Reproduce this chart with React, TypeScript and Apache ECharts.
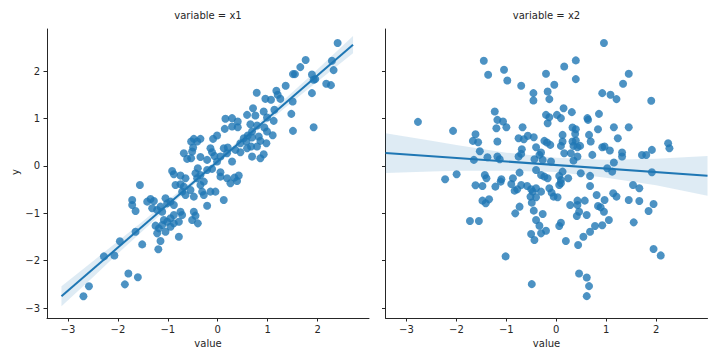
import React, { useEffect, useRef } from "react";
import * as echarts from "echarts";

const xTicks = [-3, -2, -1, 0, 1, 2];
const yTicks = [-3, -2, -1, 0, 1, 2];
const panelTitles = ["variable = x1", "variable = x2"];

const x1Points: [number, number][] = [
  [0.954,1.416],[0.707,1.219],[0.921,1.149],[0.587,1.078],[0.754,1.064],[0.987,1.022],[0.154,0.994],[0.287,1.008],[0.401,0.937],[0.287,0.832],[0.401,0.817],[0.141,0.782],[0.654,0.881],[0.787,0.853],[0.934,0.810],[0.687,0.726],[0.601,0.641],[0.521,0.585],[0.574,0.514],[0.454,0.479],[0.687,0.599],[0.821,0.620],[0.854,0.528],[0.987,0.726],[0.974,0.479],[0.787,0.409],[0.667,0.409],[0.587,0.373],[0.687,0.197],[0.854,0.162],[0.921,0.247],[0.454,0.289],[0.354,0.338],[0.201,0.388],[0.121,0.373],[0.187,0.268],[0.054,0.197],[0.287,0.092],[-0.013,0.092],[-0.213,0.127],[-0.013,0.641],[-0.093,0.571],[-0.146,0.373],[-0.113,0.289],[-0.066,0.211],[-0.346,0.571],[-0.413,0.514],[-0.479,0.571],[-0.533,0.514],[-0.493,0.388],[-0.513,0.303],[-0.679,0.268],[-0.533,0.162],[-0.613,0.148],[-0.346,0.190],[-0.913,-0.106],[-0.879,-0.176],[-0.746,-0.204],[-0.646,-0.261],[-0.399,-0.049],[-0.446,-0.155],[-0.346,-0.190],[-0.413,-0.261],[-0.279,-0.331],[-0.346,-0.402],[-0.213,-0.085],[-0.113,-0.063],[0.054,-0.134],[0.054,-0.226],[0.187,-0.261],[0.254,-0.367],[0.387,-0.317],[0.421,-0.204],[0.334,-0.247],[-1.559,-0.402],[-0.846,-0.402],[-0.746,-0.388],[-0.679,-0.437],[-0.713,-0.543],[-0.646,-0.613],[-0.546,-0.507],[-0.479,-0.648],[-0.313,-0.543],[-0.279,-0.613],[-0.146,-0.543],[-0.046,-0.543],[0.121,-0.719],[-0.213,-0.839],[-1.713,-0.719],[-1.713,-0.825],[-1.646,-0.951],[-1.413,-0.754],[-1.346,-0.698],[-1.279,-0.740],[-1.313,-0.895],[-1.213,-0.930],[-1.146,-0.860],[-1.046,-0.684],[-1.013,-0.790],[-0.946,-0.754],[-0.879,-0.825],[-1.113,-0.966],[-0.746,-0.966],[-0.713,-1.036],[-0.879,-1.036],[-0.946,-1.106],[-1.079,-1.141],[-1.013,-1.177],[-1.113,-1.247],[-1.246,-1.261],[-1.179,-1.318],[-1.213,-1.423],[-1.046,-1.388],[-0.946,-1.283],[-0.879,-1.212],[-0.779,-1.177],[-0.479,-0.966],[-0.446,-1.050],[-0.513,-1.141],[-0.399,-1.212],[-0.779,-1.494],[-1.513,-1.656],[-1.646,-1.388],[-1.146,-1.586],
  [-1.96,-1.59],[-2.07,-1.89],[-2.28,-1.91],[-1.79,-2.27],[-1.60,-2.35],[-1.86,-2.50],[-2.58,-2.54],[-2.69,-2.75],[-1.19,-1.76],
  [2.401,2.593],[2.287,2.220],[2.321,2.022],[1.761,2.234],[1.654,2.086],[1.507,1.938],[1.547,1.938],[1.887,1.931],[1.954,1.832],[1.921,1.818],[2.174,1.733],[2.267,1.705],[1.887,1.536],[1.361,1.691],[1.174,1.585],[1.201,1.501],[1.254,1.416],[1.067,1.395],[0.781,1.543],[1.501,1.360],[1.474,1.099],[1.507,0.740],[1.921,0.817],[1.134,1.184],[1.121,0.951],[1.101,0.648]
];

const x2Points: [number, number][] = [
  [-1.451,2.220],[-2.770,0.930],[-2.067,0.740],[-1.617,0.669],[-1.670,0.528],[-1.564,0.500],[-1.531,0.310],[-1.650,0.127],[-2.226,-0.282],[-1.995,-0.176],[-1.617,-0.409],[-1.478,-0.423],[-1.478,-0.733],[-1.412,-0.789],[-1.345,-0.705],[-1.729,-1.163],[-1.550,-1.163],[-1.014,-1.910],[-0.490,-2.495],
  [-1.364,1.924],[-1.046,2.030],[-0.980,1.804],[-0.702,1.691],[-0.205,1.945],[0.160,2.100],[0.392,2.227],[0.392,1.832],[-0.039,1.712],[-0.172,1.572],[-0.138,1.410],[-0.457,1.536],[-0.457,1.381],[1.452,1.945],[1.339,1.734],[0.922,1.536],[1.087,1.501],[1.207,1.410],[-1.232,1.149],[-1.179,0.972],[-1.066,0.937],[-1.199,0.796],[-0.999,0.817],[0.147,1.219],[0.312,1.135],[-0.205,1.078],[-0.138,1.029],[-0.172,0.902],[0.014,1.078],[0.094,1.008],[0.624,1.008],[0.637,0.972],[0.856,1.099],[0.836,0.775],[1.154,0.817],[1.452,0.817],[1.233,0.585],[-0.675,0.817],[-1.179,0.514],[-0.755,0.585],[-0.649,0.564],[-0.569,0.635],[-0.450,0.606],[-0.689,0.353],[-0.404,0.395],[-0.238,0.529],[-0.185,0.493],[-0.119,0.444],[0.127,0.655],[0.127,0.515],[0.094,0.423],[0.160,0.268],[0.326,0.810],[0.392,0.775],[0.379,0.677],[0.326,0.515],[0.346,0.423],[0.425,0.395],[0.478,0.423],[0.392,0.536],[0.292,0.268],[0.346,0.113],[0.425,0.198],[0.657,0.655],[0.690,0.515],[0.723,0.233],[0.922,0.395],[0.968,0.409],[1.074,0.324],[1.319,0.282],[1.319,0.198],[1.154,0.071],[-1.378,0.183],[-1.179,0.197],[-1.133,0.141],[-0.755,0.197],[-0.702,0.254],[-0.437,0.141],[-0.271,0.127],[-0.337,0.233],[-0.304,0.282],[-0.105,0.092],[-0.404,-0.085],[-0.304,-0.190],[-0.238,-0.226],[-0.172,-0.261],[0.060,-0.211],[0.127,-0.120],[0.094,-0.296],[0.239,-0.261],[0.491,-0.155],[0.677,-0.211],[1.021,-0.049],[1.121,-0.120],[1.452,-0.719],[-1.431,-0.190],[-1.398,-0.261],[-1.099,-0.282],[-1.113,-0.331],[-1.219,-0.437],[-0.867,-0.261],[-0.735,-0.141],[-0.901,-0.381],[-0.834,-0.522],[-0.781,-0.493],[-0.702,-0.402],[-0.583,-0.423],[-0.503,-0.493],[-0.470,-0.543],[-0.404,-0.472],[-0.516,-0.648],[-0.404,-0.662],[-0.304,-0.543],[-0.138,-0.472],[-0.092,-0.564],[-0.052,-0.648],[0.027,-0.662],[0.060,-0.402],[0.094,-0.367],[-0.490,-0.775],[-0.735,-0.860],[-0.821,-1.001],[-0.450,-0.944],[-0.271,-1.015],[-0.404,-1.142],[-0.337,-1.261],[0.094,-1.198],[0.060,-1.268],[0.279,-0.825],[0.425,-0.733],[0.425,-0.825],[0.458,-0.966],[0.412,-1.057],[0.571,-0.733],[0.610,-1.036],[0.677,-0.423],[0.809,-0.613],[0.836,-0.846],[0.889,-0.874],[0.968,-0.719],[0.955,-0.966],[1.141,-0.578],[1.207,-0.648],[1.054,-1.142],[0.776,-1.268],[0.922,-1.254],[0.677,-1.388],[0.544,-1.494],[0.438,-1.670],[0.193,-1.586],[-0.205,-1.367],[-0.304,-1.423],[-0.437,-1.564],[-0.503,-1.438],
  [0.955,2.593],[1.903,1.374],[2.241,0.479],[2.267,0.373],[1.916,0.338],[1.717,0.232],[1.803,0.232],[1.916,-0.134],[1.538,-0.402],[1.664,-0.472],[1.664,-0.740],[1.949,-0.804],[1.850,-0.951],[1.552,-1.191],[1.949,-1.755],[2.093,-1.889],[0.457,-2.269],[0.611,-2.354],[0.657,-2.537],[0.611,-2.749]
];

// regression lines
const line1X = [-3.13, 2.71];
const line1Y = [-2.75, 2.56];
const line2X = [-3.42, 3.03];
const line2Y = [0.274, -0.208];

// confidence bands
const band1X = [-3.13, -2.5, -2, -1.5, -1, -0.5, 0, 0.5, 1, 1.5, 2, 2.71];
const band1Lo = [-2.96, -2.35, -1.85, -1.37, -0.89, -0.42, 0.04, 0.49, 0.92, 1.36, 1.78, 2.38];
const band1Hi = [-2.54, -2.01, -1.59, -1.17, -0.73, -0.3, 0.15, 0.61, 1.08, 1.56, 2.04, 2.74];
const band2X = [-3.42, -2.5, -2, -1, 0, 1, 2, 3.03];
const band2Lo = [-0.15, -0.12, -0.1, -0.1, -0.13, -0.25, -0.41, -0.63];
const band2Hi = [0.69, 0.53, 0.44, 0.28, 0.17, 0.13, 0.15, 0.21];

const X_MIN = -3.42, X_MAX = 3.03, Y_MIN = -3.21, Y_MAX = 2.89;
const BLUE = "#1f77b4";
const AX = "#262626";
const FONT = "DejaVu Sans";

function fmt(v: number) {
  return v < 0 ? "\u2212" + Math.abs(v) : String(v);
}

function bandSeries(idx: number, bx: number[], lo: number[], hi: number[]) {
  return {
    type: "custom",
    xAxisIndex: idx,
    yAxisIndex: idx,
    silent: true,
    z: 1,
    data: [[bx[0], lo[0]]],
    renderItem: (params: any, api: any) => {
      const pts: number[][] = [];
      for (let i = 0; i < bx.length; i++) pts.push(api.coord([bx[i], hi[i]]));
      for (let i = bx.length - 1; i >= 0; i--) pts.push(api.coord([bx[i], lo[i]]));
      return {
        type: "polygon",
        shape: { points: pts },
        style: { fill: "rgba(31,119,180,0.15)", stroke: "none" },
      };
    },
  };
}

export default function App() {
  const ref = useRef<HTMLDivElement>(null);
  useEffect(() => {
    if (!ref.current) return;
    const chart = echarts.init(ref.current, null, { renderer: "svg" });
    const grids = [
      { left: 47, top: 29, width: 322, height: 289 },
      { left: 385.5, top: 29, width: 322, height: 289 },
    ];
    const xAxes = [0, 1].map((i) => ({
      type: "value",
      gridIndex: i,
      min: X_MIN,
      max: X_MAX,
      splitLine: { show: false },
      axisLine: { show: true, onZero: false, lineStyle: { color: AX, width: 1 } },
      axisTick: { show: true, length: 3.5, customValues: xTicks, lineStyle: { color: AX } },
      axisLabel: {
        show: true,
        customValues: xTicks,
        formatter: (v: number) => fmt(v),
        color: AX,
        fontSize: 10,
        fontFamily: FONT,
        margin: 6,
      },
    }));
    const yAxes = [0, 1].map((i) => ({
      type: "value",
      gridIndex: i,
      min: Y_MIN,
      max: Y_MAX,
      splitLine: { show: false },
      axisLine: { show: true, onZero: false, lineStyle: { color: AX, width: 1 } },
      axisTick: { show: true, length: 3.5, customValues: yTicks, lineStyle: { color: AX } },
      axisLabel: {
        show: i === 0,
        customValues: yTicks,
        formatter: (v: number) => fmt(v),
        color: AX,
        fontSize: 10,
        fontFamily: FONT,
        margin: 7,
      },
    }));
    const scatter = (idx: number, pts: [number, number][]) => ({
      type: "scatter",
      xAxisIndex: idx,
      yAxisIndex: idx,
      data: pts,
      symbolSize: 8,
      z: 2,
      itemStyle: { color: BLUE, opacity: 0.8 },
      silent: true,
    });
    const line = (idx: number, xs: number[], ys: number[]) => ({
      type: "line",
      xAxisIndex: idx,
      yAxisIndex: idx,
      data: xs.map((x, i) => [x, ys[i]]),
      symbol: "none",
      z: 3,
      lineStyle: { color: BLUE, width: 2 },
      silent: true,
    });
    const textStyle = { fill: AX, fontSize: 10, fontFamily: FONT };
    chart.setOption({
      animation: false,
      backgroundColor: "#ffffff",
      grid: grids,
      xAxis: xAxes,
      yAxis: yAxes,
      series: [
        bandSeries(0, band1X, band1Lo, band1Hi),
        scatter(0, x1Points),
        line(0, line1X, line1Y),
        bandSeries(1, band2X, band2Lo, band2Hi),
        scatter(1, x2Points),
        line(1, line2X, line2Y),
      ],
      graphic: [
        { type: "text", x: 208, y: 15, style: { ...textStyle, text: panelTitles[0], align: "center", verticalAlign: "middle" } },
        { type: "text", x: 546.5, y: 15, style: { ...textStyle, text: panelTitles[1], align: "center", verticalAlign: "middle" } },
        { type: "text", x: 208, y: 343, style: { ...textStyle, text: "value", align: "center", verticalAlign: "middle" } },
        { type: "text", x: 546.5, y: 343, style: { ...textStyle, text: "value", align: "center", verticalAlign: "middle" } },
        { type: "text", x: 15, y: 172, rotation: Math.PI / 2, style: { ...textStyle, text: "y", align: "center", verticalAlign: "middle" } },
      ],
    });
    return () => chart.dispose();
  }, []);
  return (
    <div
      ref={ref}
      style={{ position: "fixed", left: 0, top: 0, width: 720, height: 360, background: "#fff" }}
    />
  );
}
